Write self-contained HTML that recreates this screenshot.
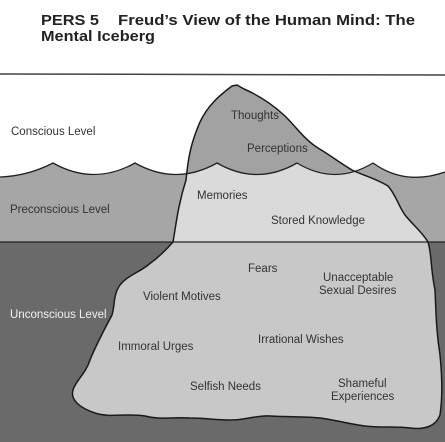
<!DOCTYPE html>
<html><head><meta charset="utf-8"><style>
html,body{margin:0;padding:0;background:#fff;}
svg{display:block;}
text{font-family:"Liberation Sans",Arial,sans-serif;}
</style></head><body>
<svg width="445" height="442" viewBox="0 0 445 442" xmlns="http://www.w3.org/2000/svg">
<defs>
<path id="berg" d="M173,242 C176,225 178,205 186,180 C188,160 190,145 200,122 C208,105 220,95 232,86 L237,85 L244,89 C258,95 272,104 285,116 C297,128 305,140 318,148 C330,155 340,163 352,170 C362,175 375,178 388,186 C396,195 398,205 405,215 C413,225 422,232 428,242 C432,255 430,265 435,290 C436,310 436,330 440,355 C442,375 443,395 440,415 C436,426 425,430 410,428 C395,426 380,428 365,426 C350,424 335,420 320,418 C300,416 285,417 270,416 C258,415 245,420 232,420 C215,420 205,418 190,418 C170,417 160,420 145,416 C125,413 110,418 95,413 C80,408 70,400 73,390 C76,380 85,375 90,360 C96,345 104,330 112,315 C115,305 113,295 120,285 C128,275 140,272 148,265 C158,258 166,250 173,242 Z"/>
<path id="water" d="M0,177 Q28,176 53,163 Q94,186 135,163 Q176,186 217,163 Q257,186 297,163 Q335,186 373,163 Q405,186 445,172 L445,442 L0,442 Z"/>
<clipPath id="cb"><use href="#berg"/></clipPath>
<clipPath id="cw"><use href="#water"/></clipPath>
</defs>
<rect width="445" height="442" fill="#fff"/>
<line x1="0" y1="74" x2="445" y2="75" stroke="#444" stroke-width="1.5"/>
<use href="#water" fill="#a6a6a6"/>
<rect x="0" y="242" width="445" height="200" fill="#6a6a6a"/>
<g clip-path="url(#cb)">
<rect x="0" y="60" width="445" height="200" fill="#a2a2a2"/>
<g clip-path="url(#cw)"><rect x="0" y="150" width="445" height="92" fill="#dadada"/></g>
<rect x="0" y="242" width="445" height="200" fill="#c8c8c8"/>
</g>
<path d="M0,177 Q28,176 53,163 Q94,186 135,163 Q176,186 217,163 Q257,186 297,163 Q335,186 373,163 Q405,186 445,172" fill="none" stroke="#222" stroke-width="1.3"/>
<line x1="0" y1="242" x2="445" y2="242" stroke="#222" stroke-width="1.3"/>
<use href="#berg" fill="none" stroke="#1a1a1a" stroke-width="1.5"/>
<g font-size="15" font-weight="bold" fill="#222">
<text x="41" y="25" textLength="58" lengthAdjust="spacingAndGlyphs">PERS 5</text>
<text x="118" y="25" textLength="297" lengthAdjust="spacingAndGlyphs">Freud’s View of the Human Mind: The</text>
<text x="41" y="41" textLength="114" lengthAdjust="spacingAndGlyphs">Mental Iceberg</text>
</g>
<g font-size="11.5" fill="#333">
<text x="11" y="135">Conscious Level</text>
<text x="10" y="213">Preconscious Level</text>
<text x="10" y="318" fill="#f2f2f2">Unconscious Level</text>
<text x="231" y="119">Thoughts</text>
<text x="247" y="152">Perceptions</text>
<text x="197" y="199">Memories</text>
<text x="271" y="224">Stored Knowledge</text>
<text x="248" y="272">Fears</text>
<text x="323" y="281">Unacceptable</text>
<text x="319" y="294">Sexual Desires</text>
<text x="143" y="300">Violent Motives</text>
<text x="258" y="343">Irrational Wishes</text>
<text x="118" y="350">Immoral Urges</text>
<text x="190" y="390">Selfish Needs</text>
<text x="338" y="387">Shameful</text>
<text x="331" y="400">Experiences</text>
</g>
</svg>
</body></html>
